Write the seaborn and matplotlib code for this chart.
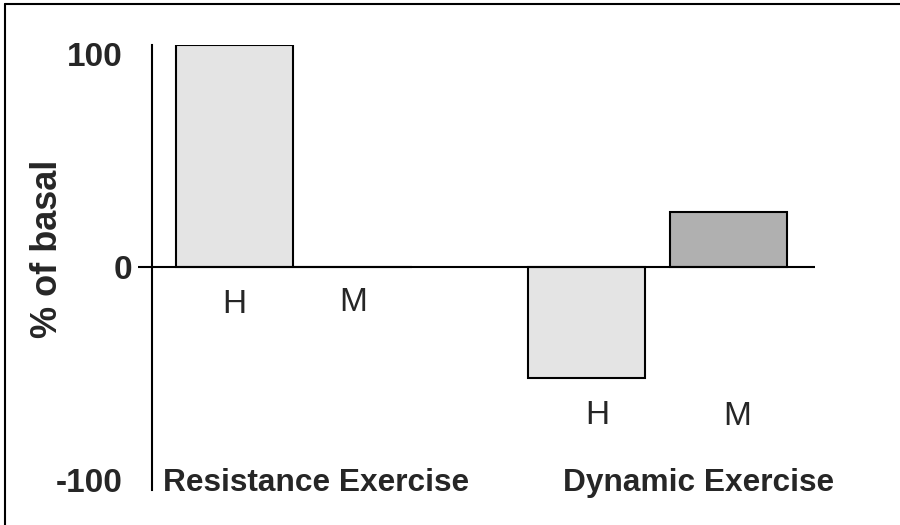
import matplotlib
matplotlib.use("Agg")
import matplotlib.pyplot as plt
import seaborn as sns
import pandas as pd
from matplotlib.lines import Line2D
from matplotlib.transforms import ScaledTranslation

# ---- data ----
groups = ["Resistance Exercise", "Resistance Exercise", "Dynamic Exercise", "Dynamic Exercise"]
conditions = ["H", "M", "H", "M"]
values = [104, 0, -52, 26]
ytick_values = [100, 0, -100]
ytick_labels = ["100", "0", "-100"]
ylabel = "% of basal"

# ---- layout (bar slot positions along x) ----
x_pos = [0.0, 1.0, 2.97, 4.17]
colors = {"H": "#e4e4e4", "M": "#b0b0b0"}

df = pd.DataFrame({"group": groups, "cond": conditions, "value": values, "pos": x_pos})

sns.set_style("white")
plt.rcParams["font.family"] = ["Liberation Sans", "DejaVu Sans"]

W, H = 900, 525
fig = plt.figure(figsize=(9, 5.25), dpi=100)
ax_l, ax_r, ax_t, ax_b = 152, 815, 45, 490
ax = fig.add_axes([ax_l / W, 1 - ax_b / H, (ax_r - ax_l) / W, (ax_b - ax_t) / H])

sns.barplot(data=df, x="pos", y="value", hue="cond", palette=colors,
            native_scale=True, dodge=False, width=0.99,
            edgecolor="black", linewidth=1.5, legend=False, ax=ax, zorder=2)

ax.set_xlim(-0.696, 4.899)
ax.set_ylim(-104.7, 104.2)
ax.axhline(0, color="black", lw=1.5, zorder=3)

for s in ["top", "right", "bottom"]:
    ax.spines[s].set_visible(False)
ax.spines["left"].set_color("black")
ax.spines["left"].set_linewidth(1.5)

ax.set_xticks([])
ax.set_xlabel("")
ax.set_ylabel("")
ax.set_yticks(ytick_values)
ax.set_yticklabels(ytick_labels, fontsize=24, fontweight="bold")
ax.tick_params(axis="y", length=10, width=1.5, color="black", pad=11.5, left=True)
ticks = ax.yaxis.get_major_ticks()
for i, v in enumerate(ytick_values):
    if v != 0:
        ticks[i].tick1line.set_visible(False)
for lab in ax.get_yticklabels():
    if lab.get_text() == "0":
        lab.set_transform(lab.get_transform() + ScaledTranslation(10 / 100, 0, fig.dpi_scale_trans))

# condition labels under bars
cond_label_pos = [(0.0, -17.8), (1.0, -16.9), (3.06, -69.5), (4.24, -70.4)]
for c, (lx, ly) in zip(conditions, cond_label_pos):
    ax.text(lx, ly, c, ha="center", va="center", fontsize=24)

# group labels
group_names = ["Resistance Exercise", "Dynamic Exercise"]
group_label_x = [0.688, 3.92]
for g, gx in zip(group_names, group_label_x):
    ax.text(gx, -101.4, g, ha="center", va="center", fontsize=22.8, fontweight="bold")

fig.text(48 / W, 1 - 249 / H, ylabel, rotation=90, ha="center", va="center",
         fontsize=26, fontweight="bold")

# frame lines (top and left)
fig.add_artist(Line2D([5 / W, 1], [1 - 3.5 / H, 1 - 3.5 / H], color="black", lw=1.5,
                      transform=fig.transFigure))
fig.add_artist(Line2D([5 / W, 5 / W], [0, 1 - 3.5 / H], color="black", lw=1.5,
                      transform=fig.transFigure))

fig.savefig("out.png", dpi=100)
